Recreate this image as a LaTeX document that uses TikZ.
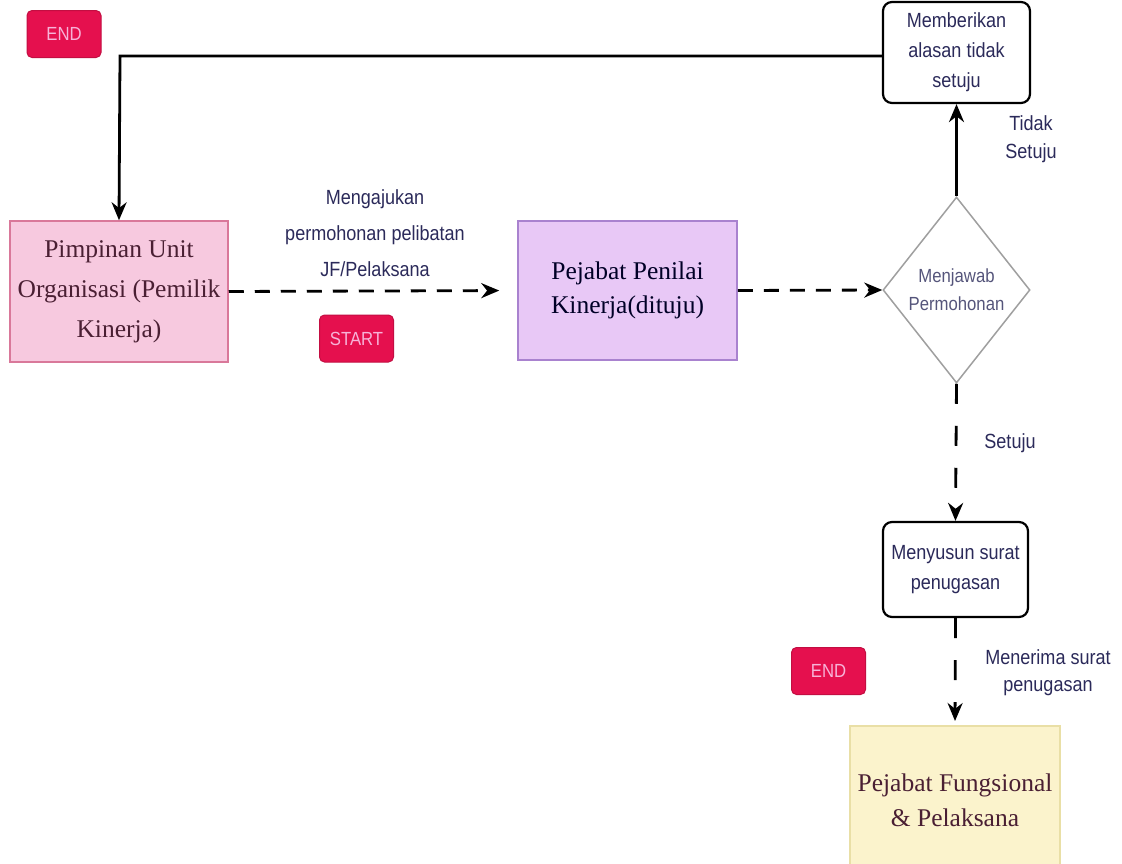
\documentclass[tikz,border=0pt]{standalone}
\usepackage{fontspec}
\setmainfont{Liberation Serif}
\newfontfamily\narrowsf[FakeStretch=0.88]{Liberation Sans}
\usetikzlibrary{arrows.meta,shapes.geometric}
\definecolor{endred}{HTML}{E5104E}
\definecolor{endtext}{HTML}{F7B3D8}
\definecolor{pinkfill}{HTML}{F7C9DF}
\definecolor{pinkline}{HTML}{D9789A}
\definecolor{lilacfill}{HTML}{E8C8F6}
\definecolor{lilacline}{HTML}{A982CF}
\definecolor{creamfill}{HTML}{FBF3CC}
\definecolor{creamline}{HTML}{E9DFA6}
\definecolor{inktext}{HTML}{2B2A5A}
\definecolor{maroontext}{HTML}{4A1F33}

\begin{document}
\begin{tikzpicture}[x=1pt, y=-1pt]
    \tikzstyle{tag}=[rectangle, rounded corners=5pt, fill=endred, draw=endred!85!black, line width=1pt, minimum width=74pt, minimum height=47pt, inner sep=0pt, font=\narrowsf\fontsize{19}{20}\selectfont, text=endtext]
    \tikzstyle{actor}=[rectangle, line width=1.5pt, inner sep=0pt, align=center]
    \tikzstyle{task}=[rectangle, rounded corners=9pt, draw=black, line width=2.2pt, fill=white, inner sep=0pt, align=center, text=inktext, font=\narrowsf\fontsize{20.5}{30}\selectfont]
    \tikzstyle{lbl}=[align=center, text=inktext, font=\narrowsf\fontsize{20.5}{30}\selectfont]
    \tikzstyle{flow}=[line width=2.8pt, -{Stealth[length=18pt,width=15pt]}]
    \tikzstyle{dflow}=[flow, dash pattern=on 15pt off 11pt]
    \useasboundingbox[fill=white] (0,0) rectangle (1122,863);

    % boxes
    \node[tag] (end1) at (64,34) {END};
    \node[actor, fill=pinkfill, draw=pinkline, minimum width=218pt, minimum height=141pt, text=maroontext, font=\fontsize{25.5}{40}\selectfont] (unit) at (119,291.5) {Pimpinan Unit\\Organisasi (Pemilik\\Kinerja)};
    \node[tag] (start) at (356.5,338.5) {START};
    \node[actor, fill=lilacfill, draw=lilacline, minimum width=219pt, minimum height=139pt, text=black!85!blue, font=\fontsize{25.5}{34}\selectfont] (ppk) at (627.5,290.5) {Pejabat Penilai\\Kinerja(dituju)};
    \node[diamond, draw=gray!75, line width=1.5pt, inner sep=0pt, minimum width=147pt, minimum height=186pt, align=center, text=inktext!80, font=\narrowsf\fontsize{19}{28}\selectfont] (ans) at (956.5,290) {Menjawab\\Permohonan};
    \node[task, minimum width=147pt, minimum height=101pt] (reason) at (956.5,52.5) {Memberikan\\alasan tidak\\setuju};
    \node[task, minimum width=145pt, minimum height=95pt] (draft) at (955.5,569.5) {Menyusun surat\\penugasan};
    \node[tag] (end2) at (828.5,671) {END};
    \node[actor, fill=creamfill, draw=creamline, minimum width=210pt, minimum height=150pt, anchor=north, text=maroontext, font=\fontsize{25.5}{35}\selectfont] (jf) at (955,725) {Pejabat Fungsional\\\& Pelaksana};

    % connectors
    \coordinate (corner) at (120,56);
    \draw[flow] (reason.west |- corner) -- (corner) -- (unit.north);
    \draw[dflow, shorten >=18pt] (unit.east) -- (ppk.west);
    \draw[dflow] (ppk.east) -- (ans.west);
    \draw[flow] (ans.north) -- (reason.south);
    \draw[dflow, dash pattern=on 20pt off 22pt] (ans.south) -- (draft.north);
    \draw[dflow, dash pattern=on 20pt off 22pt, shorten >=4pt] (draft.south) -- (jf.north);

    % labels
    \node[lbl, font=\narrowsf\fontsize{20.5}{36}\selectfont] (reqlbl) at (375,233) {Mengajukan\\permohonan pelibatan\\JF/Pelaksana};
    \node[lbl, font=\narrowsf\fontsize{20.5}{28}\selectfont] (nolbl) at (1031,139) {Tidak\\Setuju};
    \node[lbl] (yeslbl) at (1010,443) {Setuju};
    \node[lbl, font=\narrowsf\fontsize{20.5}{27}\selectfont] (getlbl) at (1048,673) {Menerima surat\\penugasan};
\end{tikzpicture}
\end{document}
